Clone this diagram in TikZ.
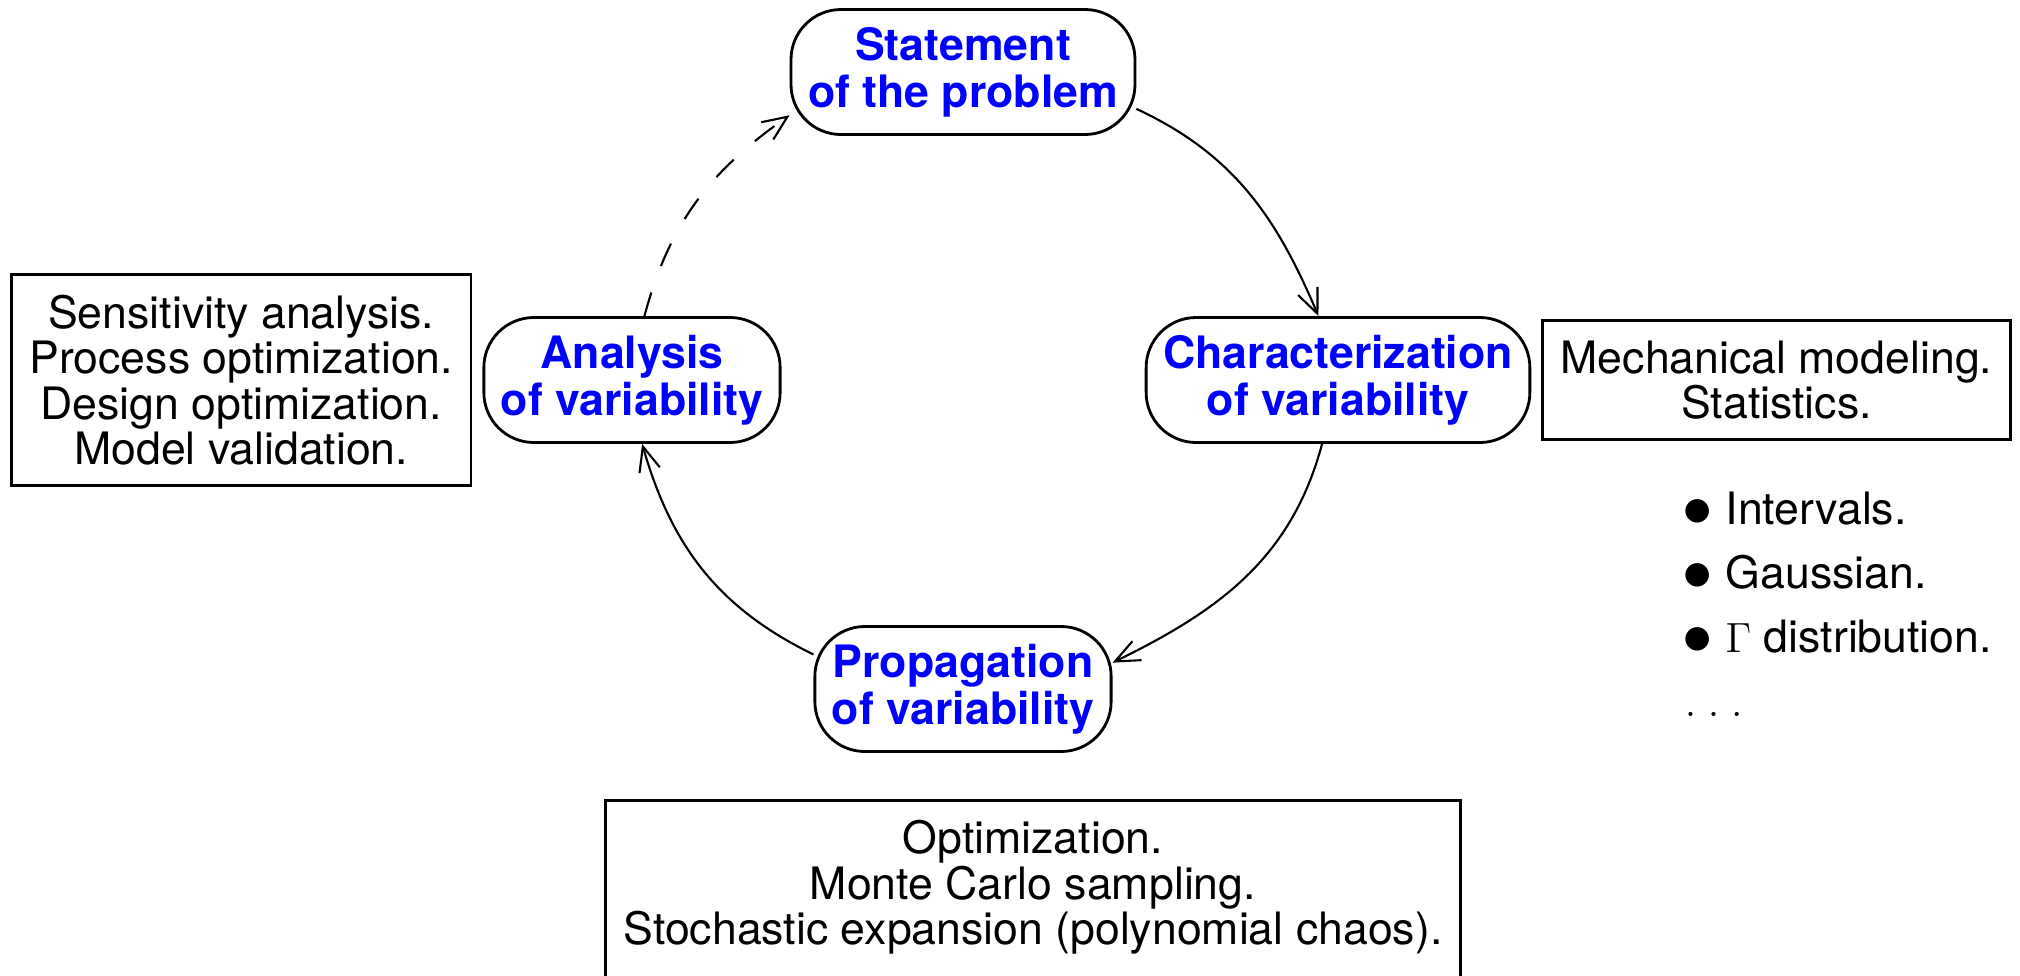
\documentclass[tikz,border=0pt]{standalone}
\usepackage{fontspec}
\setmainfont{TeX Gyre Heros}
\usetikzlibrary{arrows.meta, positioning}
\usepackage{xcolor}
\definecolor{StageText}{RGB}{0,0,255}
\definecolor{StageLine}{RGB}{0,0,0}
\newcommand{\diagsize}{\fontsize{12.7}{13.3}\selectfont}
\newcommand{\toolsize}{\fontsize{12.7}{12.95}\selectfont}
\newcommand{\bigdot}{\raisebox{-0.6pt}{\fontsize{16}{16}\selectfont$\bullet$}\hspace{3.6pt}}
\tikzset{
  % One stage of the loop (rounded box, blue bold title)
  stage/.style={
    rectangle, rounded corners=0.5cm,
    draw=StageLine, fill=white, line width=0.8pt,
    align=center, font=\diagsize\bfseries, text=StageText,
    inner xsep=0.17cm, minimum height=1.25cm
  },
  % Plain box with the tools of a stage
  tools/.style={
    rectangle, draw=black, line width=0.8pt,
    align=center, font=\toolsize, inner xsep=0.18cm, inner ysep=0.2cm
  },
  % Bullet list of distributions
  dists/.style={align=left, font=\fontsize{12.7}{18.2}\selectfont, inner sep=0pt},
  arr/.style={-{Straight Barb[length=7pt,width=6pt]}, line width=0.6pt},
  dasharr/.style={arr, dash pattern=on 7pt off 8pt}
}

\begin{document}
\begin{tikzpicture}[node distance=1mm and 1mm]
  \useasboundingbox (0,0) rectangle (20.2,-9.75);

  %% ── The four stages ─────────────────────────────────────────────────────
  \node[stage] (stmt)   at (9.63,-0.72)  {Statement\\of the problem};
  \node[stage] (charac) at (13.38,-3.80) {Characterization\\of variability};
  \node[stage] (anal)   at (6.32,-3.80)  {Analysis\\of variability};
  \node[stage] (prop)   at (9.63,-6.89)  {Propagation\\of variability};

  \draw[arr]     (stmt.-12)    to[out=-25, in=113]  (charac.107);
  \draw[arr]     (charac.-104) to[out=-105, in=26]  (prop.10);
  \draw[arr]     (prop.167)    to[out=154, in=-74]  (anal.-81);
  \draw[dasharr] (anal.79)     to[out=75, in=-145]  (stmt.194);

  %% ── Tool boxes ──────────────────────────────────────────────────────────
  \node[tools, left=1mm of anal] (lbox)
    {Sensitivity analysis.\\Process optimization.\\Design optimization.\\Model validation.};
  \node[tools, right=1mm of charac] (rbox)
    {Mechanical modeling.\\Statistics.};
  \node[tools, below=4.6mm of prop, xshift=7mm, text depth=4mm] (bbox)
    {Optimization.\\Monte Carlo sampling.\\Stochastic expansion (polynomial chaos).};

  % base anchor sits on the last line (the dots)
  \node[dists, anchor=base west] (dlist) at (16.82,-7.16)
    {\bigdot Intervals.\\
     \bigdot Gaussian.\\
     \bigdot $\Gamma$ distribution.\\
     \hspace{0.6pt}$.\;.\;.$};

\end{tikzpicture}
\end{document}
